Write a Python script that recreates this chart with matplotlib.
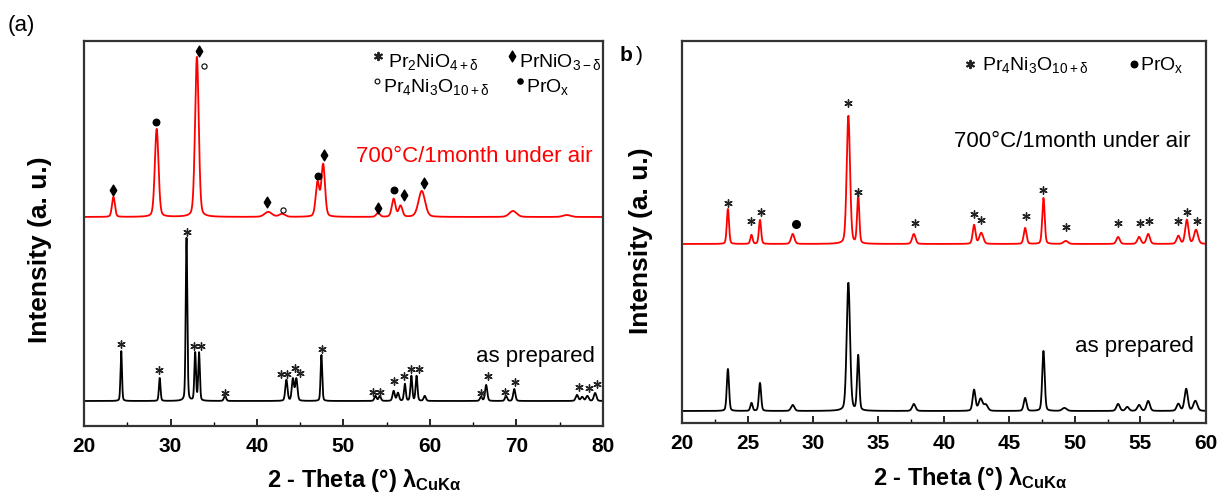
import numpy as np
import matplotlib
matplotlib.use("Agg")
import matplotlib.pyplot as plt

plt.rcParams["font.family"] = ["Liberation Sans", "DejaVu Sans"]
plt.rcParams["mathtext.fontset"] = "custom"
plt.rcParams["mathtext.rm"] = "Liberation Sans"
plt.rcParams["mathtext.it"] = "Liberation Sans:italic"
plt.rcParams["mathtext.bf"] = "Liberation Sans:bold"

# ---- panel (a): peaks (2theta, height, fwhm) ----
a_red_pos = [23.4, 28.4, 33.05, 41.3, 42.9, 47.0, 47.65, 54.0, 55.8, 56.6, 59.05, 69.6, 75.8]
a_red_h = [20, 88, 160, 5, 3, 34, 52, 4, 18, 11, 26, 6, 2]
a_red_w = [0.4, 0.5, 0.5, 1.0, 0.8, 0.5, 0.5, 0.5, 0.5, 0.5, 0.9, 1.0, 1.0]
a_red_base = 209

a_blk_pos = [24.3, 28.75, 31.85, 32.85, 33.3, 36.3, 43.4, 44.15, 44.55, 47.45, 53.7, 54.2,
             55.8, 56.3, 57.1, 57.85, 58.45, 59.4, 65.9, 66.5, 68.8, 69.75, 77.0, 77.6, 78.2, 79.1]
a_blk_h = [50, 23, 163, 48, 48, 5, 21, 22, 22, 46, 5, 5,
           10, 8, 17, 25, 25, 5, 4, 16, 5, 12, 6, 4, 5, 8]
a_blk_w = [0.2, 0.22, 0.22, 0.22, 0.22, 0.3, 0.3, 0.3, 0.3, 0.22, 0.3, 0.3,
           0.3, 0.3, 0.25, 0.25, 0.25, 0.3, 0.3, 0.3, 0.3, 0.3, 0.35, 0.35, 0.35, 0.35]
a_blk_base = 25

# phase markers on panel (a)
a_diamond_x = [23.4, 33.3, 41.2, 47.7, 54.0, 57.0, 59.3]
a_diamond_y = [236, 375, 224, 271, 218, 231, 243]
a_dot_x = [28.3, 47.0, 55.9]
a_dot_y = [304, 250, 236]
a_circ_x = [33.9, 43.0]
a_circ_y = [360, 216]
a_star_x = [24.3, 28.7, 31.9, 32.7, 33.5, 36.3, 42.8, 43.45, 44.35, 45.0, 47.5, 53.4, 54.2,
            55.9, 57.0, 57.85, 58.7, 65.9, 66.7, 68.7, 69.8, 77.2, 78.4, 79.3]
a_star_y = [82, 56, 194, 80, 80, 33, 52, 52, 58, 53, 77, 34, 34,
            45, 50, 57, 57, 33, 50, 34, 44, 39, 38, 42]

# ---- panel (b) ----
b_red_pos = [23.5, 25.3, 25.95, 28.45, 32.7, 33.45, 37.7, 42.3, 42.85, 46.2, 47.6, 49.3,
             53.3, 54.9, 55.6, 57.9, 58.55, 59.25]
b_red_h = [35, 9, 24, 10, 128, 48, 10, 19, 11, 16, 46, 3, 7, 7, 10, 8, 24, 14]
b_red_w = [0.2, 0.2, 0.2, 0.3, 0.3, 0.2, 0.3, 0.25, 0.35, 0.25, 0.22, 0.4,
           0.3, 0.3, 0.3, 0.3, 0.3, 0.35]
b_red_base = 179

b_blk_pos = [23.5, 25.3, 25.95, 28.45, 32.7, 33.45, 37.7, 42.3, 42.8, 43.2, 46.2, 47.6, 49.2,
             53.3, 54.0, 54.9, 55.6, 57.9, 58.5, 59.2]
b_blk_h = [42, 8, 28, 6, 128, 55, 7, 21, 12, 6, 13, 60, 3, 7, 4, 6, 10, 7, 22, 10]
b_blk_w = [0.2, 0.2, 0.2, 0.3, 0.3, 0.2, 0.3, 0.25, 0.35, 0.35, 0.25, 0.22, 0.4,
           0.3, 0.3, 0.3, 0.3, 0.3, 0.3, 0.35]
b_blk_base = 12

b_star_x = [23.5, 25.3, 26.0, 32.7, 33.45, 37.8, 42.3, 42.85, 46.25, 47.6, 49.3, 53.3,
            55.0, 55.65, 57.9, 58.55, 59.35]
b_star_y = [220, 202, 211, 320, 231, 200, 209, 203, 207, 233, 196, 200, 200, 202, 202, 211, 202]
b_dot_x = [28.7]
b_dot_y = [199]


def pattern(x, pos, h, w, base):
    y = np.full_like(x, float(base))
    for p, a, f in zip(pos, h, w):
        s = f / 2.3548
        g = np.exp(-0.5 * ((x - p) / s) ** 2)
        l = 1.0 / (1.0 + ((x - p) / (f / 2)) ** 2)
        y += a * (0.75 * g + 0.25 * l)
    return y


fig = plt.figure(figsize=(12.18, 5.02), dpi=100)
ax1 = fig.add_axes([0.069, 0.1494, 0.426, 0.767])
ax2 = fig.add_axes([0.560, 0.1554, 0.430, 0.761])

xa = np.linspace(20, 80, 4001)
ax1.plot(xa, pattern(xa, a_red_pos, a_red_h, a_red_w, a_red_base), color="#ff0000", lw=1.3)
ax1.plot(xa, pattern(xa, a_blk_pos, a_blk_h, a_blk_w, a_blk_base), color="black", lw=1.3)
ax1.scatter(a_diamond_x, a_diamond_y, marker="d", s=30, color="black", zorder=3)
ax1.scatter(a_dot_x, a_dot_y, marker="o", s=22, color="black", zorder=3)
ax1.scatter(a_circ_x, a_circ_y, marker="o", s=14, facecolor="white", edgecolor="black",
            linewidth=0.8, zorder=3)
ax1.scatter(a_star_x, a_star_y, marker=(6, 2, 0), s=28, color="#222222", linewidth=1.0, zorder=3)
ax1.set_xlim(20, 80)
ax1.set_ylim(0, 385)

xb = np.linspace(20, 60, 4001)
ax2.plot(xb, pattern(xb, b_red_pos, b_red_h, b_red_w, b_red_base), color="#ff0000", lw=1.3)
ax2.plot(xb, pattern(xb, b_blk_pos, b_blk_h, b_blk_w, b_blk_base), color="black", lw=1.3)
ax2.scatter(b_star_x, b_star_y, marker=(6, 2, 0), s=28, color="#222222", linewidth=1.0, zorder=3)
ax2.scatter(b_dot_x, b_dot_y, marker="o", s=30, color="black", zorder=3)
ax2.set_xlim(20, 60)
ax2.set_ylim(0, 382)

for ax, major, minor in [(ax1, 10, 5), (ax2, 5, 2.5)]:
    ax.set_xticks(np.arange(ax.get_xlim()[0], ax.get_xlim()[1] + 0.1, major))
    ax.set_xticks(np.arange(ax.get_xlim()[0], ax.get_xlim()[1] + 0.1, minor), minor=True)
    ax.set_yticks([])
    ax.tick_params(axis="x", which="major", direction="in", length=5, width=1.2,
                   labelsize=15, pad=7)
    ax.tick_params(axis="x", which="minor", direction="in", length=3, width=1.0)
    for lab in ax.get_xticklabels():
        lab.set_fontweight("bold")
    for sp in ax.spines.values():
        sp.set_linewidth(1.6)
        sp.set_color("#333333")
    ax.set_ylabel("Intensity (a. u.)", fontsize=19, fontweight="bold")
    ax.set_xlabel(r"2 - Theta (°) $\mathregular{\lambda_{CuK\alpha}}$", fontsize=17,
                  fontweight="bold")

ax1.yaxis.set_label_coords(-0.062, 0.461)
ax2.yaxis.set_label_coords(-0.055, 0.479)
ax1.xaxis.set_label_coords(0.54, -0.105)
ax2.xaxis.set_label_coords(0.55, -0.108)

# annotations
ax1.text(78.8, 270, "700°C/1month under air", color="#ff0000", fontsize=16,
         ha="right", va="center")
ax1.text(79.1, 70, "as prepared", color="black", fontsize=16, ha="right", va="center")
ax2.text(58.85, 282, "700°C/1month under air", color="black", fontsize=16,
         ha="right", va="center")
ax2.text(59.1, 77, "as prepared", color="black", fontsize=16, ha="right", va="center")

# legends of phases
tr = ax1.transAxes
ax1.scatter([0.566], [0.961], marker=(6, 2, 0), s=28, color="#222222", transform=tr)
ax1.text(0.585, 0.935, r"Pr$_2$NiO$_{\mathregular{4+\delta}}$", fontsize=14, transform=tr,
         va="baseline")
ax1.scatter([0.825], [0.961], marker="d", s=30, color="black", transform=tr)
ax1.text(0.838, 0.935, r"PrNiO$_{\mathregular{3-\delta}}$", fontsize=14, transform=tr,
         va="baseline")
ax1.scatter([0.565], [0.895], marker="o", s=12, facecolor="white", edgecolor="black",
            linewidth=0.8, transform=tr)
ax1.text(0.576, 0.870, r"Pr$_4$Ni$_3$O$_{\mathregular{10+\delta}}$", fontsize=14,
         transform=tr, va="baseline")
ax1.scatter([0.840], [0.895], marker="o", s=14, color="black", transform=tr)
ax1.text(0.852, 0.870, r"PrO$_\mathregular{x}$", fontsize=14, transform=tr, va="baseline")

tr2 = ax2.transAxes
ax2.scatter([0.550], [0.940], marker=(6, 2, 0), s=28, color="#222222", transform=tr2)
ax2.text(0.572, 0.927, r"Pr$_4$Ni$_3$O$_{\mathregular{10+\delta}}$", fontsize=14,
         transform=tr2, va="baseline")
ax2.scatter([0.862], [0.940], marker="o", s=22, color="black", transform=tr2)
ax2.text(0.874, 0.927, r"PrO$_\mathregular{x}$", fontsize=14, transform=tr2, va="baseline")

fig.text(0.006, 0.950, "(a)", fontsize=16, va="center")
fig.text(0.509, 0.890, "b", fontsize=15, fontweight="bold", va="center")
fig.text(0.522, 0.890, ")", fontsize=15, va="center")

fig.savefig("out.png", dpi=100)
